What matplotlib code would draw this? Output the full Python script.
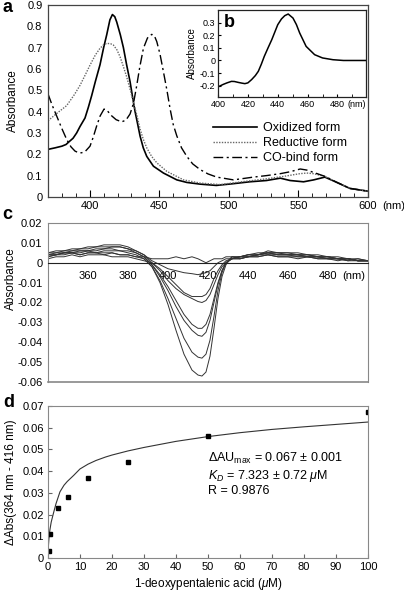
import matplotlib
matplotlib.use('Agg')
import matplotlib.pyplot as plt
from matplotlib.ticker import MultipleLocator, FuncFormatter

plt.rcParams['font.family'] = ['Liberation Sans', 'DejaVu Sans']
plt.rcParams['mathtext.fontset'] = 'custom'
plt.rcParams['mathtext.rm'] = 'Liberation Sans'
plt.rcParams['mathtext.it'] = 'Liberation Sans:italic'
plt.rcParams['axes.unicode_minus'] = False

# ---- panel a: absolute spectra
wl_ox = [370, 375, 380, 383, 385, 388, 390.6, 393, 396.6, 399, 401.4, 404, 407.4, 410, 412.2,
         414.5, 416.3, 418, 419.4, 422, 424.2, 426.5, 429, 431, 432.6, 434.5, 436.2, 438.5, 441,
         445.8, 453, 462.6, 469.8, 479.4, 491, 503, 515, 527, 537, 544, 553.7, 561, 569, 577.7,
         587, 600]
abs_ox = [0.223, 0.230, 0.238, 0.246, 0.258, 0.275, 0.30, 0.33, 0.37, 0.42, 0.475, 0.54, 0.62,
          0.70, 0.76, 0.83, 0.855, 0.845, 0.82, 0.76, 0.70, 0.62, 0.54, 0.46, 0.40, 0.34, 0.285,
          0.23, 0.19, 0.144, 0.112, 0.08, 0.068, 0.06, 0.054, 0.062, 0.071, 0.077, 0.088, 0.077,
          0.071, 0.08, 0.093, 0.068, 0.04, 0.027]

wl_red = [370, 376, 383.4, 389, 393, 397, 400.2, 404, 407.4, 410, 412.2, 415, 417, 419.5, 421.8,
          424, 426.6, 429, 431.4, 434, 436.2, 438.5, 441, 444.5, 448.2, 455.4, 467.4, 479.4, 493.7,
          508, 527, 539, 551, 556, 561, 569, 577.7, 587, 600]
abs_red = [0.357, 0.39, 0.428, 0.48, 0.523, 0.575, 0.618, 0.665, 0.697, 0.713, 0.72, 0.718, 0.712,
           0.69, 0.657, 0.615, 0.562, 0.505, 0.444, 0.38, 0.318, 0.27, 0.23, 0.19, 0.16, 0.12, 0.08,
           0.065, 0.058, 0.07, 0.085, 0.096, 0.109, 0.112, 0.109, 0.096, 0.068, 0.04, 0.027]

wl_co = [370, 373, 376.2, 380, 383.4, 386.5, 389.4, 392, 394.2, 397, 400.2, 402.5, 405, 407.5,
         410.3, 412.5, 415.8, 419, 423, 426, 429, 431.5, 433.8, 436, 438.6, 441.5, 444.6, 446.5,
         448.2, 450.5, 453, 455.5, 457.8, 460, 462.6, 466, 469.8, 474, 479.4, 485, 491.3, 503.3,
         517.7, 527, 536.9, 544, 551.3, 556, 560.9, 569.3, 577.7, 587, 600]
abs_co = [0.483, 0.43, 0.38, 0.32, 0.27, 0.235, 0.215, 0.207, 0.207, 0.215, 0.238, 0.28, 0.333,
          0.38, 0.412, 0.405, 0.38, 0.362, 0.352, 0.36, 0.389, 0.44, 0.523, 0.61, 0.697, 0.745,
          0.762, 0.755, 0.728, 0.67, 0.586, 0.50, 0.412, 0.34, 0.286, 0.23, 0.19, 0.155, 0.128,
          0.108, 0.093, 0.08, 0.093, 0.10, 0.109, 0.118, 0.131, 0.126, 0.115, 0.096, 0.068, 0.04,
          0.027]

# ---- panel b: CO difference spectrum (inset)
wl_b = [400, 403.5, 406, 409, 411, 413.5, 416, 418, 420, 422.5, 425, 427, 429, 431, 433.5, 436,
        440, 442.5, 444.7, 447, 450.2, 452.5, 454.7, 459, 464.7, 470, 477, 484, 491, 499]
abs_b = [-0.21, -0.19, -0.178, -0.166, -0.167, -0.174, -0.18, -0.184, -0.178, -0.152, -0.12,
         -0.086, -0.03, 0.033, 0.10, 0.165, 0.284, 0.33, 0.356, 0.369, 0.337, 0.285, 0.218,
         0.112, 0.046, 0.02, 0.006, 0.0, 0.0, 0.0]

# ---- panel c: difference spectra during titration
wl_c = [340, 344, 348, 352, 356, 360, 364, 368, 372, 376, 380, 384, 388,
        392, 396, 400, 404, 408, 412, 415, 417, 419, 421, 423, 425, 427, 429,
        432, 436, 440, 445, 450, 455, 460, 465, 470, 475, 480, 485, 490, 495, 500]
scan1 = [0.003, 0.004, 0.004, 0.005, 0.004, 0.005, 0.005, 0.004, 0.005, 0.004, 0.004, 0.003, 0.003,
         0.002, 0.002, 0.002, 0.003, 0.002, 0.003, 0.002, 0.001, 0.000, 0.001, 0.002, 0.002, 0.002, 0.003,
         0.003, 0.002, 0.003, 0.003, 0.004, 0.003, 0.003, 0.002, 0.003, 0.002, 0.002, 0.001, 0.002, 0.001, 0.001]
scan2 = [0.004, 0.005, 0.005, 0.006, 0.006, 0.006, 0.007, 0.007, 0.008, 0.008, 0.007, 0.006, 0.004,
         0.001, -0.001, -0.003, -0.004, -0.005, -0.0055, -0.006, -0.0055, -0.005, -0.004, -0.002, 0.000, 0.001, 0.002,
         0.002, 0.003, 0.003, 0.004, 0.005, 0.004, 0.004, 0.004, 0.003, 0.003, 0.002, 0.002, 0.002, 0.001, 0.001]
scan3 = [0.002, 0.003, 0.003, 0.004, 0.003, 0.004, 0.004, 0.004, 0.003, 0.003, 0.003, 0.002, 0.001,
         0.0, -0.003, -0.007, -0.011, -0.015, -0.017, -0.017, -0.017, -0.016, -0.013, -0.008, -0.004, -0.001, 0.001,
         0.002, 0.002, 0.003, 0.003, 0.004, 0.003, 0.003, 0.003, 0.003, 0.002, 0.002, 0.002, 0.001, 0.002, 0.001]
scan4 = [0.005, 0.006, 0.006, 0.007, 0.007, 0.008, 0.008, 0.009, 0.009, 0.009, 0.008, 0.006, 0.004,
         0.0, -0.004, -0.009, -0.013, -0.016, -0.018, -0.0195, -0.020, -0.019, -0.016, -0.011, -0.006, -0.002, 0.0,
         0.002, 0.003, 0.004, 0.004, 0.005, 0.005, 0.005, 0.005, 0.004, 0.004, 0.003, 0.002, 0.002, 0.001, 0.001]
scan5 = [0.004, 0.004, 0.005, 0.005, 0.006, 0.006, 0.006, 0.007, 0.007, 0.006, 0.006, 0.005, 0.003,
         -0.001, -0.006, -0.012, -0.019, -0.026, -0.031, -0.033, -0.033, -0.031, -0.026, -0.018, -0.010, -0.004, 0.0,
         0.002, 0.003, 0.003, 0.004, 0.006, 0.005, 0.004, 0.004, 0.004, 0.003, 0.003, 0.002, 0.002, 0.002, 0.001]
scan6 = [0.005, 0.005, 0.006, 0.006, 0.007, 0.007, 0.008, 0.008, 0.008, 0.008, 0.007, 0.005, 0.003,
         -0.001, -0.007, -0.014, -0.022, -0.029, -0.034, -0.0365, -0.037, -0.035, -0.029, -0.020, -0.011, -0.004, 0.0,
         0.003, 0.003, 0.004, 0.005, 0.005, 0.005, 0.005, 0.004, 0.004, 0.003, 0.003, 0.003, 0.002, 0.001, 0.001]
scan7 = [0.003, 0.004, 0.005, 0.005, 0.005, 0.006, 0.005, 0.006, 0.006, 0.006, 0.005, 0.004, 0.002,
         -0.002, -0.009, -0.018, -0.028, -0.038, -0.045, -0.0475, -0.048, -0.046, -0.039, -0.027, -0.014, -0.005, 0.0,
         0.002, 0.002, 0.003, 0.004, 0.004, 0.004, 0.004, 0.004, 0.003, 0.003, 0.002, 0.002, 0.002, 0.001, 0.001]
scan8 = [0.004, 0.004, 0.005, 0.005, 0.004, 0.005, 0.005, 0.005, 0.005, 0.004, 0.004, 0.003, 0.002,
         -0.002, -0.010, -0.021, -0.034, -0.046, -0.054, -0.0565, -0.057, -0.055, -0.047, -0.033, -0.018, -0.007, -0.001,
         0.003, 0.003, 0.004, 0.004, 0.005, 0.004, 0.004, 0.003, 0.003, 0.003, 0.003, 0.002, 0.001, 0.001, 0.001]
scans = [scan1, scan2, scan3, scan4, scan5, scan6, scan7, scan8]

# ---- panel d: binding curve
conc = [0.2, 0.78, 3.125, 6.25, 12.5, 25, 50, 100]
dabs = [0.003, 0.011, 0.023, 0.028, 0.037, 0.044, 0.056, 0.067]
fit_x = [0, 0.1, 0.3, 0.6, 1, 1.7, 2.5, 3.75, 5, 6, 8, 10, 12.5, 15, 18, 20, 25, 30, 40, 50,
         60, 70, 80, 90, 100]
fit_y = [0.002, 0.005, 0.009, 0.013, 0.0165, 0.0206, 0.025, 0.0305, 0.0335, 0.0352, 0.038, 0.041,
         0.0432, 0.0449, 0.0465, 0.0474, 0.0493, 0.0509, 0.0537, 0.0559, 0.0577, 0.0592, 0.0604,
         0.0615, 0.0626]

fmt = FuncFormatter(lambda v, p: '{:g}'.format(round(v, 4)))

fig = plt.figure(figsize=(4.04, 5.95), dpi=100)

# a
ax = fig.add_axes([0.1188, 0.669, 0.792, 0.3227])
ax.plot(wl_ox, abs_ox, color='black', lw=1.2, label='Oxidized form')
ax.plot(wl_red, abs_red, color='#666666', lw=1.0, ls=(0, (1, 1)), label='Reductive form')
ax.plot(wl_co, abs_co, color='black', lw=1.0, ls=(0, (7, 2.5, 1.5, 2.5)), label='CO-bind form')
ax.set_xlim(370, 600)
ax.set_ylim(0, 0.9)
ax.set_xticks([400, 450, 500, 550, 600])
ax.xaxis.set_minor_locator(MultipleLocator(10))
ax.yaxis.set_major_locator(MultipleLocator(0.1))
ax.yaxis.set_major_formatter(fmt)
ax.tick_params(axis='x', which='major', direction='in', length=5, labelsize=8, pad=3)
ax.tick_params(axis='x', which='minor', direction='in', length=3)
ax.tick_params(axis='y', length=0, labelsize=8, pad=4)
ax.annotate('(nm)', xy=(600, 0), xycoords=('data', 'axes fraction'), xytext=(10, -3),
            textcoords='offset points', ha='left', va='top', fontsize=8)
ax.set_ylabel('Absorbance', fontsize=8.5, labelpad=6)
for s in ax.spines.values():
    s.set_color('#444444')
    s.set_linewidth(0.9)
ax.legend(loc='upper left', bbox_to_anchor=(0.515, 0.39), frameon=False, fontsize=9,
          handlelength=3.5, handletextpad=0.5, labelspacing=0.25, borderpad=0, borderaxespad=0)

# b inset
axb = fig.add_axes([0.5396, 0.837, 0.366, 0.146])
axb.plot(wl_b, abs_b, color='black', lw=1.1)
axb.set_xlim(400, 499)
axb.set_ylim(-0.29, 0.40)
axb.set_xticks([400, 420, 440, 460, 480])
axb.xaxis.set_minor_locator(MultipleLocator(10))
axb.set_yticks([-0.2, -0.1, 0, 0.1, 0.2, 0.3])
axb.yaxis.set_major_formatter(fmt)
axb.tick_params(axis='x', which='both', direction='in', length=2.5, labelsize=6.5, pad=2)
axb.tick_params(axis='y', direction='in', length=2, labelsize=6.5, pad=2)
axb.annotate('(nm)', xy=(480, 0), xycoords=('data', 'axes fraction'), xytext=(7, -2),
             textcoords='offset points', ha='left', va='top', fontsize=6.5)
axb.set_ylabel('Absorbance', fontsize=7, labelpad=2)
axb.text(0.075, 0.86, 'b', transform=axb.transAxes, fontsize=13, fontweight='bold',
         ha='center', va='center')
for s in axb.spines.values():
    s.set_color('#222222')
    s.set_linewidth(0.9)

# c
axc = fig.add_axes([0.1188, 0.358, 0.792, 0.2672])
for sc in scans:
    axc.plot(wl_c, sc, color='#333333', lw=0.7)
axc.set_xlim(340, 500)
axc.set_ylim(-0.06, 0.02)
axc.set_xticks([360, 380, 400, 420, 440, 460, 480])
axc.yaxis.set_major_locator(MultipleLocator(0.01))
axc.yaxis.set_major_formatter(fmt)
axc.spines['bottom'].set_position(('data', 0))
axc.spines['bottom'].set_color('#222222')
axc.spines['bottom'].set_linewidth(0.8)
for k in ['top', 'left', 'right']:
    axc.spines[k].set_color('#888888')
axc.plot([0, 1], [0, 0], transform=axc.transAxes, color='#888888', lw=1.2, clip_on=False)
axc.tick_params(axis='x', length=0, labelsize=8, pad=6)
axc.tick_params(axis='y', length=0, labelsize=8, pad=4)
axc.annotate('(nm)', xy=(480, 0), xycoords='data', xytext=(10, -6),
             textcoords='offset points', ha='left', va='top', fontsize=8)
axc.set_ylabel('Absorbance', fontsize=8.5, labelpad=4)
axc.yaxis.set_label_coords(-0.097, 0.65)

# d
axd = fig.add_axes([0.1188, 0.0622, 0.792, 0.2555])
axd.plot(fit_x, fit_y, color='#333333', lw=0.8)
axd.plot(conc, dabs, ls='none', marker='s', ms=3.2, color='black')
axd.set_xlim(0, 100)
axd.set_ylim(0, 0.07)
axd.xaxis.set_major_locator(MultipleLocator(10))
axd.yaxis.set_major_locator(MultipleLocator(0.01))
axd.yaxis.set_major_formatter(fmt)
axd.tick_params(direction='in', length=3, labelsize=8, pad=3, color='#666666')
for s in axd.spines.values():
    s.set_color('#888888')
axd.set_xlabel(r'1-deoxypentalenic acid ($\mu$M)', fontsize=8.5, labelpad=3)
axd.set_ylabel('ΔAbs(364 nm - 416 nm)', fontsize=8.5, labelpad=4)
axd.text(50, 0.0385, 'ΔAU$_{\\rm max}$ = 0.067 ± 0.001\n$K_D$ = 7.323 ± 0.72 $\\mu$M\nR = 0.9876',
         fontsize=9, ha='left', va='center', linespacing=1.15)

fig.text(0.018, 0.987, 'a', fontsize=13, fontweight='bold', ha='center', va='center')
fig.text(0.018, 0.639, 'c', fontsize=13, fontweight='bold', ha='center', va='center')
fig.text(0.022, 0.324, 'd', fontsize=13, fontweight='bold', ha='center', va='center')

fig.savefig('out.png', dpi=100)
